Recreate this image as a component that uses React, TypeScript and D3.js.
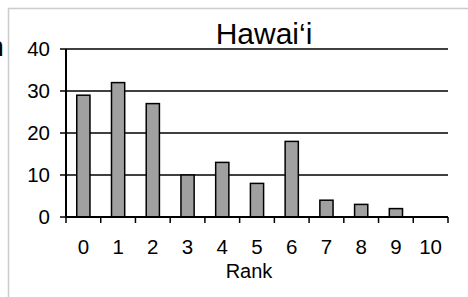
import React from 'react';
import * as d3 from 'd3';

const ranks = ['0', '1', '2', '3', '4', '5', '6', '7', '8', '9', '10'];
const counts = [29, 32, 27, 10, 13, 8, 18, 4, 3, 2, 0];
const yTicks = [0, 10, 20, 30, 40];

const W = 468;
const H = 297;
const margin = { top: 49, right: 20, bottom: 80, left: 66 };
const font = "'Liberation Sans', Arial, Helvetica, sans-serif";

export default function App() {
  const x = d3.scaleBand<string>()
    .domain(ranks)
    .range([margin.left, 448])
    .paddingInner(0.62)
    .paddingOuter(0.31);

  const y = d3.scaleLinear().domain([0, 40]).range([217, margin.top]);

  const step = x.step();
  const boundaries = ranks.map(r => (x(r) || 0) - (step * x.paddingInner()) / 2);
  boundaries.push(448);

  return (
    <svg width={W} height={H} style={{ position: 'fixed', left: 0, top: 0, background: '#fff' }} fontFamily={font}>
      {/* frame */}
      <line x1={8} x2={W} y1={8.5} y2={8.5} stroke="#cccccc" strokeWidth={1.5} />
      <line x1={8.5} x2={8.5} y1={8} y2={H} stroke="#cccccc" strokeWidth={1.5} />
      {/* cut-off label from the neighbouring panel */}
      <text x={3.8} y={55.7} fontSize={27} textAnchor="end" fill="#000">n</text>

      {/* gridlines */}
      {yTicks.filter(t => t > 0).map(t => (
        <line key={t} x1={margin.left} x2={448} y1={y(t)} y2={y(t)} stroke="#000" strokeWidth={1.5} />
      ))}

      {/* bars */}
      {ranks.map((r, i) => counts[i] > 0 && (
        <rect key={r} x={x(r)} y={y(counts[i])} width={x.bandwidth()} height={y(0) - y(counts[i])}
          fill="#a0a0a0" stroke="#000" strokeWidth={1.5} />
      ))}

      {/* y axis */}
      <line x1={margin.left} x2={margin.left} y1={y(40)} y2={y(0)} stroke="#000" strokeWidth={2} />
      {yTicks.map(t => (
        <g key={t}>
          <line x1={60} x2={margin.left} y1={y(t)} y2={y(t)} stroke="#000" strokeWidth={1.5} />
          <text x={50} y={y(t)} dy="0.36em" fontSize={20.5} textAnchor="end">{t}</text>
        </g>
      ))}

      {/* x axis */}
      <line x1={margin.left} x2={448} y1={y(0)} y2={y(0)} stroke="#000" strokeWidth={2} />
      {boundaries.map((b, i) => (
        <line key={i} x1={b} x2={b} y1={y(0)} y2={y(0) + 6} stroke="#000" strokeWidth={1.5} />
      ))}
      {ranks.map(r => (
        <text key={r} x={(x(r) || 0) + x.bandwidth() / 2} y={254.3} fontSize={20.5} textAnchor="middle">{r}</text>
      ))}
      <text x={249} y={277.7} fontSize={20} textAnchor="middle">Rank</text>

      {/* title */}
      <text x={264} y={44} fontSize={30} textAnchor="middle">Hawai‘i</text>
    </svg>
  );
}
